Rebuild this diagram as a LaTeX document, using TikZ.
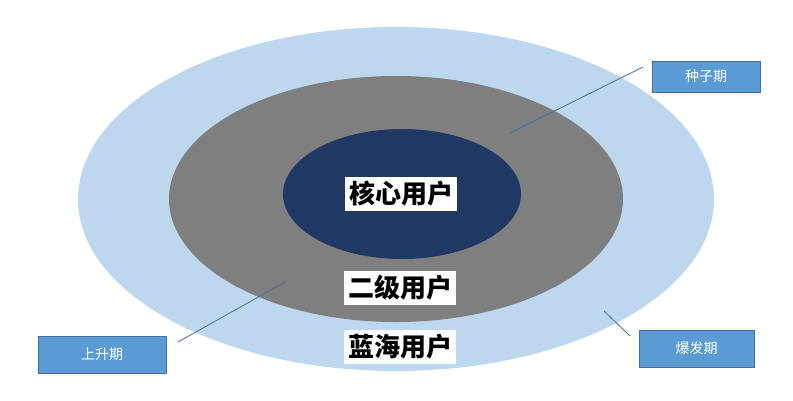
\documentclass[tikz,border=0pt]{standalone}
\usepackage{fontspec}
\newfontfamily\cjk{Noto Sans CJK SC}
\definecolor{outerc}{HTML}{BDD7EE}
\definecolor{midc}{HTML}{7F7F7F}
\definecolor{innerc}{HTML}{1F3864}
\definecolor{boxc}{HTML}{5B9BD5}
\definecolor{boxb}{HTML}{41719C}
\begin{document}
\begin{tikzpicture}[x=1pt,y=-1pt,
  lab/.style={fill=white,inner xsep=4pt,inner ysep=4pt,font=\cjk\bfseries\fontsize{26}{26}\selectfont,text=black},
  tag/.style={draw=boxb,fill=boxc,minimum height=31pt,text=white,font=\cjk\fontsize{14}{14}\selectfont},
  conn/.style={draw=boxb,line width=0.8pt}]
\useasboundingbox (0,0) rectangle (793,400);
\fill[outerc] (396,199) ellipse [x radius=318, y radius=172];
\fill[midc] (396,199) ellipse [x radius=227, y radius=123];
\fill[innerc] (402,194) ellipse [x radius=119, y radius=65];
\node[lab] (core) at (401,194) {核心用户};
\node[lab] (second) at (400,288) {二级用户};
\node[lab] (blue) at (400,347) {蓝海用户};
\node[tag,minimum width=108pt] (seed) at (706,76.5) {种子期};
\node[tag,minimum width=128pt,minimum height=37pt] (rise) at (102,354.5) {上升期};
\node[tag,minimum width=115pt,minimum height=37pt] (burst) at (696.5,348.5) {爆发期};
\coordinate (a1) at (510,133); \coordinate (a2) at (643,67);
\coordinate (b1) at (287,281); \coordinate (b2) at (178,342);
\coordinate (c1) at (604,311); \coordinate (c2) at (630,336);
\draw[conn] (a1) -- (a2);
\draw[conn] (b1) -- (b2);
\draw[conn] (c1) -- (c2);
\end{tikzpicture}
\end{document}
